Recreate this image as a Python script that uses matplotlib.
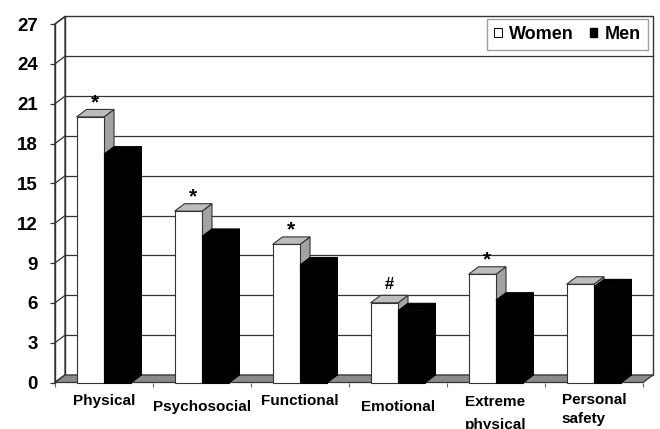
import numpy as np
import matplotlib.pyplot as plt
from matplotlib.patches import Polygon, Patch

# scores per domain
categories = ['Physical', 'Psychosocial', 'Functional', 'Emotional',
              'Extreme\nphysical', 'Personal\nsafety']
women = [20.0, 12.9, 10.4, 6.0, 8.15, 7.4]
men = [17.2, 11.0, 8.85, 5.4, 6.2, 7.2]
marks = ['*', '*', '*', '#', '*', '']
yticks = list(range(0, 28, 3))

plt.rcParams['font.family'] = ['Liberation Sans', 'DejaVu Sans']
plt.rcParams['font.weight'] = 'bold'

fig = plt.figure(figsize=(6.6, 4.29), dpi=100)
ax = fig.add_axes([55 / 660, 46.5 / 429, 588 / 660, 358.5 / 429])
ax.set_xlim(-0.5, 5.5)
ax.set_ylim(0, 27)
ax.patch.set_visible(False)

# fake 3d depth (x in category units, y in value units)
ddx = 0.102
ddy = 0.565
edge = '#333333'
x0, x1 = -0.5, 5.5
ytop = yticks[-1]


def poly(pts, fc, ec=edge, lw=0.8, z=1):
    ax.add_patch(Polygon(pts, closed=True, facecolor=fc, edgecolor=ec,
                         linewidth=lw, zorder=z, clip_on=False))


# back wall, left wall, floor
poly([(x0 + ddx, ddy), (x1 + ddx, ddy), (x1 + ddx, ytop + ddy), (x0 + ddx, ytop + ddy)],
     'white', lw=1.0, z=0)
poly([(x0, 0), (x0 + ddx, ddy), (x0 + ddx, ytop + ddy), (x0, ytop)], 'white', lw=1.0, z=0)
for v in yticks[1:-1]:
    ax.plot([x0 + ddx, x1 + ddx], [v + ddy, v + ddy], color=edge, lw=0.9, zorder=0.5,
            clip_on=False)
for v in yticks:
    ax.plot([x0, x0 + ddx], [v, v + ddy], color=edge, lw=0.9, zorder=0.5, clip_on=False)
poly([(x0, 0), (x1, 0), (x1 + ddx, ddy), (x0 + ddx, ddy)], '#8a8a8a', lw=0.9, z=0.6)


def bar3d(left, w, h, front, top, side, ec):
    poly([(left + w, 0), (left + w + ddx, ddy), (left + w + ddx, h + ddy), (left + w, h)],
         side, ec=ec, z=2)
    poly([(left, h), (left + w, h), (left + w + ddx, h + ddy), (left + ddx, h + ddy)],
         top, ec=ec, z=2)
    poly([(left, 0), (left + w, 0), (left + w, h), (left, h)], front, ec=ec, z=2)


bw = 0.28
for i in range(len(categories)):
    bar3d(i - bw, bw, women[i], 'white', '#bdbdbd', '#a3a3a3', edge)
    bar3d(i, bw, men[i], 'black', 'black', 'black', 'black')
    if marks[i] == '*':
        ax.text(i - bw / 2 + ddx / 2, women[i] + ddy + 0.1, '*', ha='center', va='baseline',
                fontsize=15, fontweight='bold', zorder=3)
    elif marks[i] == '#':
        ax.text(i - bw / 2 + ddx / 2, women[i] + ddy + 0.45, '#', ha='center',
                va='baseline', fontsize=12, fontweight='bold', zorder=3)

# category labels, slightly staggered
label_drop = [8.3, 12.6, 8.3, 12.3, 9.0, 7.6]
label_spacing = [1.5, 1.5, 1.5, 1.5, 1.85, 1.45]
for i, lab in enumerate(categories):
    ax.annotate(lab, xy=(i, 0), xytext=(0, -label_drop[i]), textcoords='offset points',
                ha='center', va='top', multialignment='left', linespacing=label_spacing[i],
                fontsize=11, fontweight='bold', annotation_clip=False)

for s in ['top', 'right', 'bottom']:
    ax.spines[s].set_visible(False)
ax.spines['left'].set_color(edge)
ax.spines['left'].set_linewidth(1.0)
ax.spines['left'].set_zorder(1)

ax.set_yticks(yticks)
ax.set_yticklabels([str(v) for v in yticks])
ax.tick_params(axis='y', length=3.6, width=0.9, color=edge, pad=8.6, labelsize=13.5)
ax.set_xticks(np.arange(x0, x1 + 0.5, 1))
ax.set_xticklabels([])
ax.tick_params(axis='x', length=3, width=0.8, color='#666666')

handles = [Patch(facecolor='white', edgecolor='black', linewidth=0.7),
           Patch(facecolor='black', edgecolor='black')]
leg = fig.legend(handles, ['Women', 'Men'], loc='upper right',
                 bbox_to_anchor=(648 / 660, 1 - 19 / 429), ncol=2, fancybox=False,
                 edgecolor='#a0a0a0', framealpha=1, handlelength=0.42, handleheight=0.42,
                 handletextpad=0.4, columnspacing=0.9, borderpad=0.4, borderaxespad=0,
                 prop=dict(weight='bold', size=13))
leg.get_frame().set_linewidth(1.0)

fig.savefig('out.png', dpi=100, facecolor='white')
